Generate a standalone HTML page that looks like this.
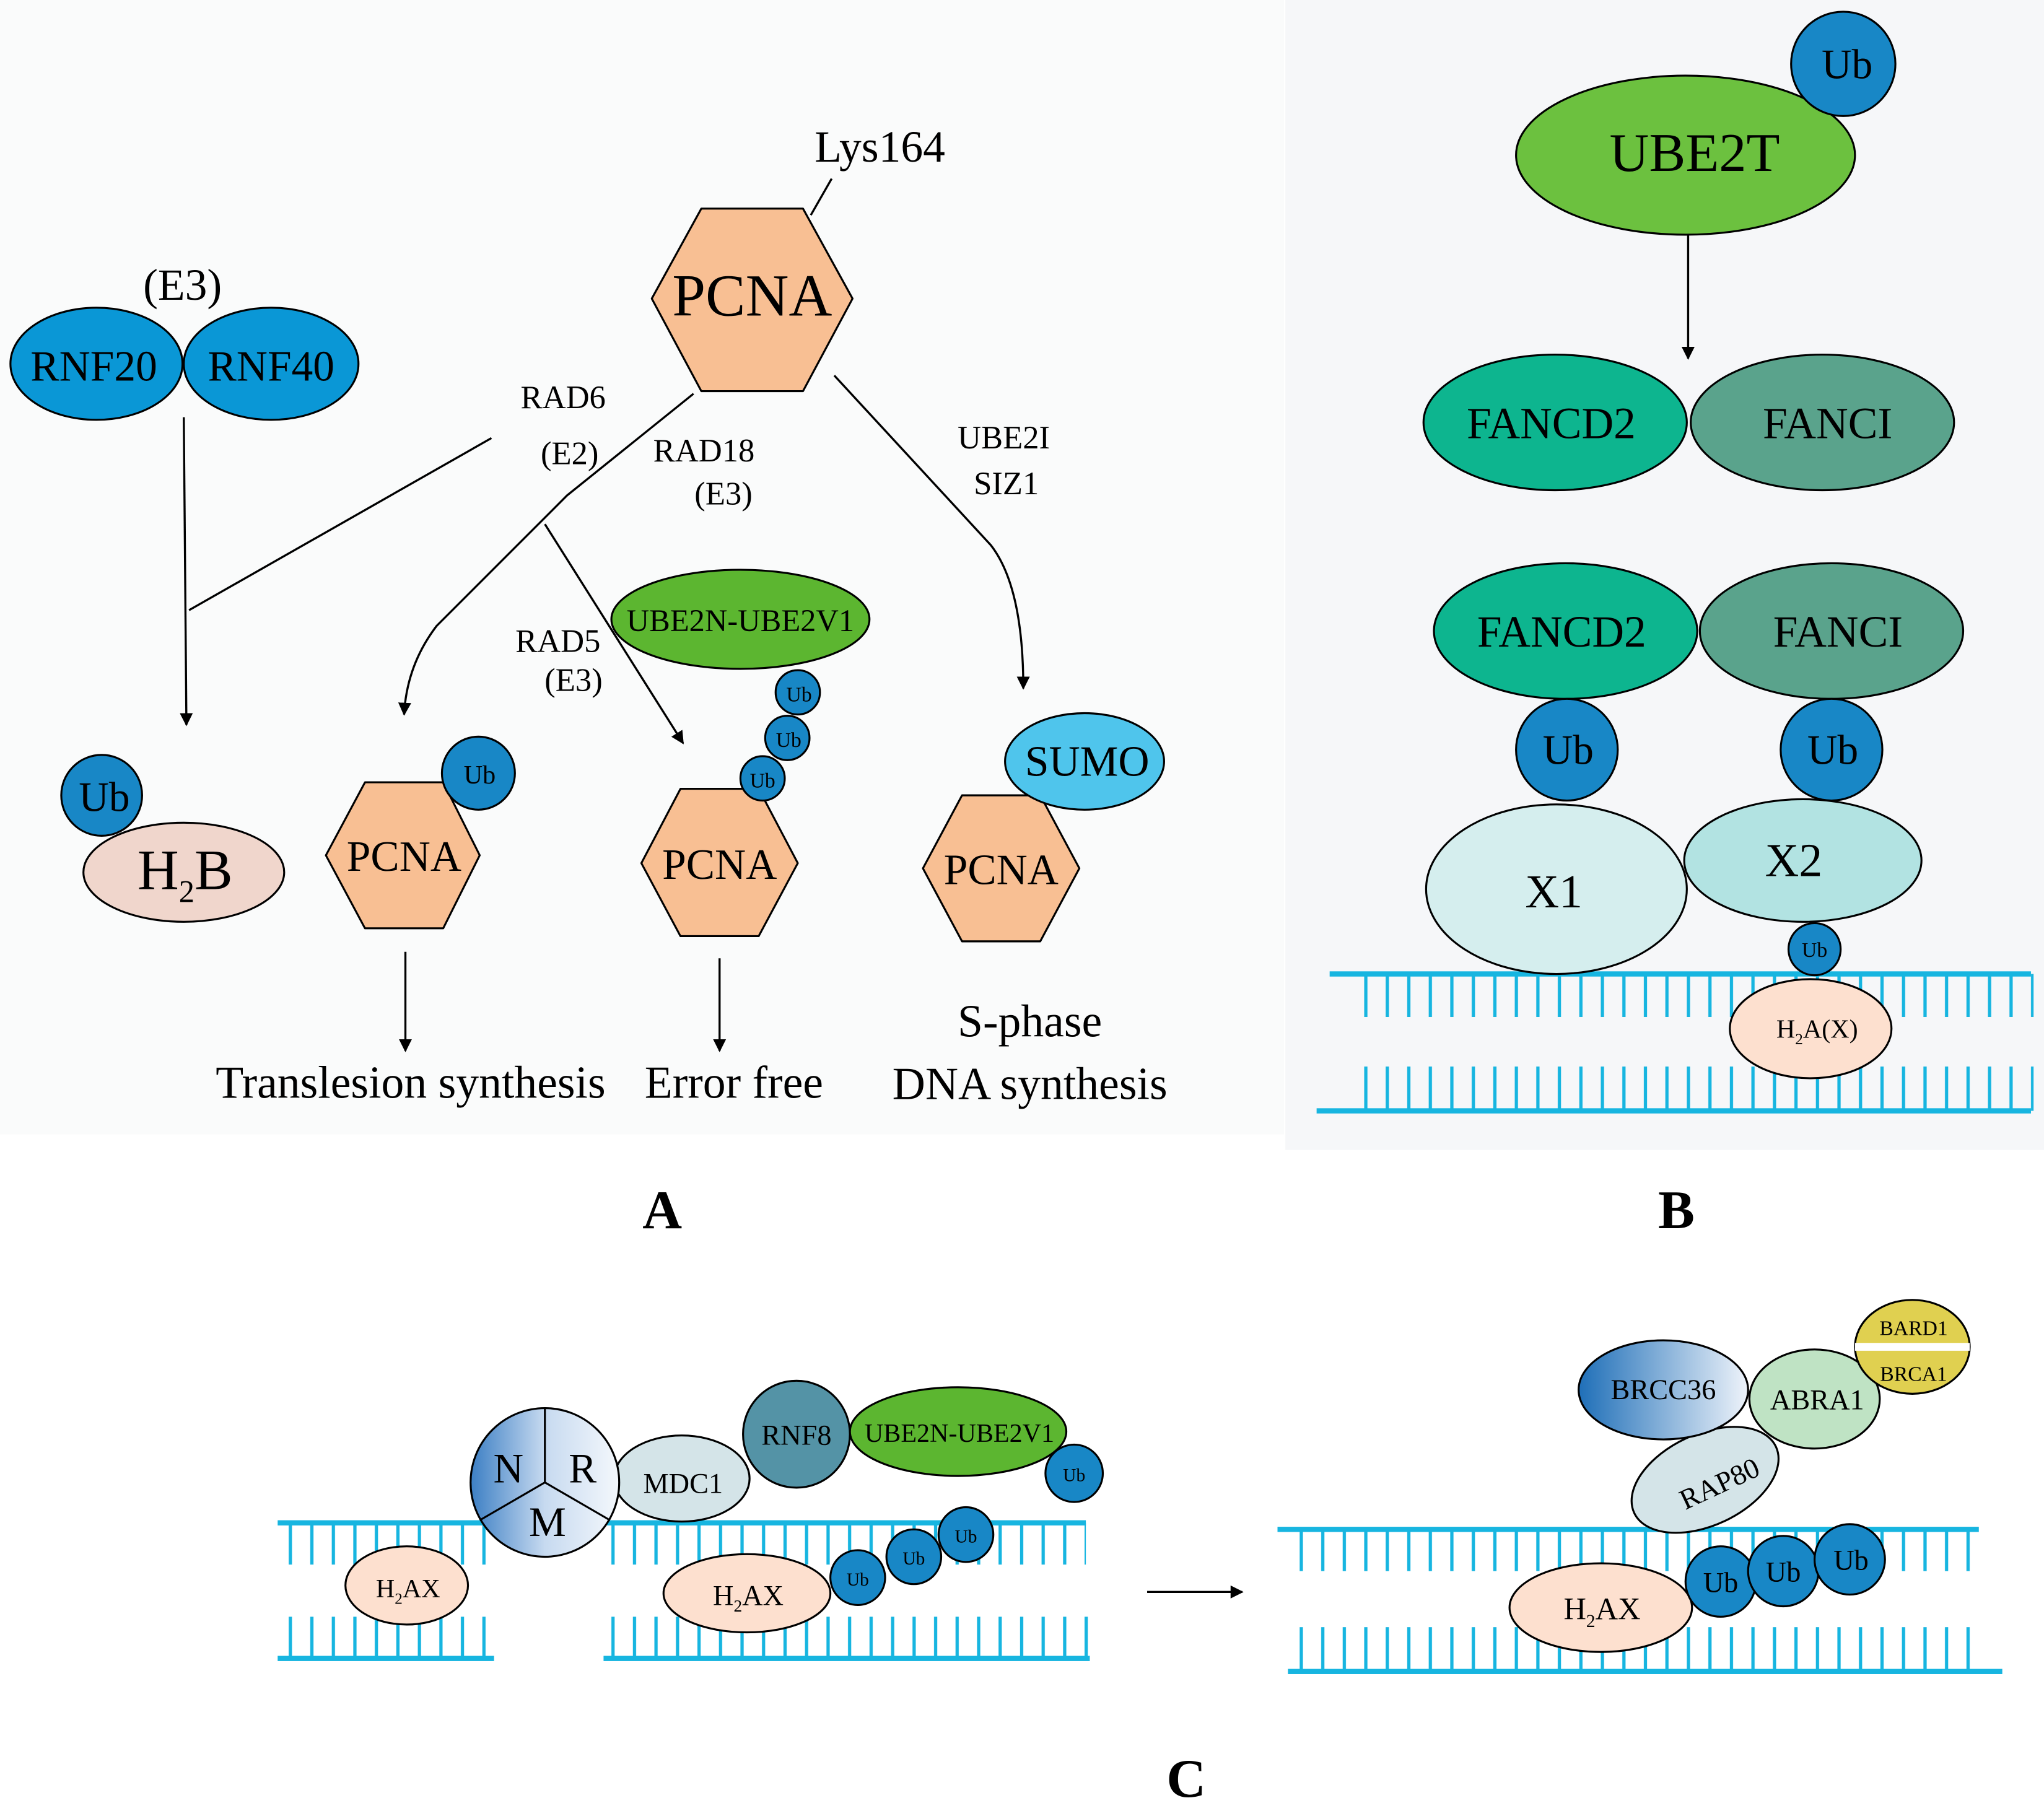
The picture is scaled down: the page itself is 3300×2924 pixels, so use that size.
<!DOCTYPE html>
<html><head><meta charset="utf-8"><style>html,body{margin:0;padding:0;background:#fff}svg{display:block}text{font-family:"Liberation Serif",serif}</style></head><body>
<svg width="3300" height="2924" viewBox="0 0 1568 1389" preserveAspectRatio="none" xmlns="http://www.w3.org/2000/svg">
<defs>
<marker id="ar" markerWidth="10" markerHeight="10" refX="9" refY="5" orient="auto" markerUnits="userSpaceOnUse"><path d="M0,0 L10,5 L0,10 z" fill="#000"/></marker>
<pattern id="tk" width="16.5" height="40" patternUnits="userSpaceOnUse"><rect x="7" y="0" width="2.5" height="40" fill="#17b5e0"/></pattern>
<linearGradient id="brc" x1="0" x2="1"><stop offset="0" stop-color="#1f6fb8"/><stop offset="1" stop-color="#eef3fa"/></linearGradient>
<linearGradient id="nrm" x1="0" x2="1"><stop offset="0" stop-color="#3c7fc4"/><stop offset="0.5" stop-color="#c7daf0"/><stop offset="1" stop-color="#f4f8fc"/></linearGradient>
</defs>
<rect width="1568" height="1389" fill="#fff"/>
<rect x="0" y="0" width="985" height="870" fill="#fafbfb"/>
<rect x="986" y="0" width="582" height="882" fill="#f6f7f9"/>
<g stroke="#000" stroke-width="1.6" fill="none">
<line x1="622" y1="165" x2="638" y2="137"/>
<line x1="141" y1="320" x2="143" y2="556" marker-end="url(#ar)"/>
<line x1="145" y1="468" x2="377" y2="336"/>
<path d="M532,302 L435,380 L335,480 Q312,510 310,548" marker-end="url(#ar)"/>
<line x1="418" y1="402" x2="524" y2="570" marker-end="url(#ar)"/>
<path d="M640,288 L760,418 Q785,450 785,528" marker-end="url(#ar)"/>
<line x1="311" y1="730" x2="311" y2="806" marker-end="url(#ar)"/>
<line x1="552" y1="735" x2="552" y2="806" marker-end="url(#ar)"/>
<line x1="1295" y1="180" x2="1295" y2="275" marker-end="url(#ar)"/>
<line x1="880" y1="1221" x2="953" y2="1221" marker-end="url(#ar)"/>
</g>
<g stroke="#000" stroke-width="1.5">
<polygon points="500,229 538,160 616,160 654,229 616,300 538,300" fill="#f8bf93" stroke-linejoin="round"/>
<ellipse cx="74" cy="279" rx="66" ry="43" fill="#0a97d6"/>
<ellipse cx="208" cy="279" rx="67" ry="43" fill="#0a97d6"/>
<ellipse cx="141" cy="669" rx="77" ry="38" fill="#f0d6cc"/>
<circle cx="78" cy="610" r="31" fill="#1887c6"/>
<polygon points="250,656 280,600 340,600 368,656 340,712 280,712" fill="#f8bf93" stroke-linejoin="round"/>
<circle cx="367" cy="593" r="28" fill="#1887c6"/>
<ellipse cx="568" cy="475" rx="99" ry="38" fill="#5cb630"/>
<polygon points="492,662 522,605 582,605 612,662 582,718 522,718" fill="#f8bf93" stroke-linejoin="round"/>
<circle cx="612" cy="531" r="17" fill="#1887c6"/>
<circle cx="604" cy="566" r="17" fill="#1887c6"/>
<circle cx="585" cy="597" r="17" fill="#1887c6"/>
<polygon points="708,666 738,610 798,610 828,666 798,722 738,722" fill="#f8bf93" stroke-linejoin="round"/>
<ellipse cx="832" cy="584" rx="61" ry="37" fill="#4fc5ec"/>
</g>
<g font-size="34" text-anchor="middle">
<text x="675" y="124" font-size="34">Lys164</text>
<text x="577" y="242" font-size="46">PCNA</text>
<text x="140" y="230" font-size="34">(E3)</text>
<text x="72" y="292" font-size="33">RNF20</text>
<text x="208" y="292" font-size="33">RNF40</text>
<text x="432" y="313" font-size="25">RAD6</text>
<text x="437" y="356" font-size="25">(E2)</text>
<text x="540" y="354" font-size="25">RAD18</text>
<text x="555" y="387" font-size="25">(E3)</text>
<text x="770" y="344" font-size="25">UBE2I</text>
<text x="772" y="379" font-size="25">SIZ1</text>
<text x="428" y="500" font-size="25">RAD5</text>
<text x="440" y="530" font-size="25">(E3)</text>
<text x="568" y="484" font-size="24">UBE2N-UBE2V1</text>
<text x="80" y="622" font-size="32">Ub</text>
<text x="142" y="682" font-size="44">H<tspan font-size="24" dy="10">2</tspan><tspan dy="-10">B</tspan></text>
<text x="310" y="668" font-size="33">PCNA</text>
<text x="368" y="601" font-size="20">Ub</text>
<text x="552" y="674" font-size="33">PCNA</text>
<text x="613" y="538" font-size="16">Ub</text>
<text x="605" y="573" font-size="16">Ub</text>
<text x="585" y="604" font-size="16">Ub</text>
<text x="768" y="678" font-size="33">PCNA</text>
<text x="834" y="595" font-size="33">SUMO</text>
<text x="315" y="842" font-size="35">Translesion synthesis</text>
<text x="563" y="842" font-size="35">Error free</text>
<text x="790" y="795" font-size="35">S-phase</text>
<text x="790" y="843" font-size="35">DNA synthesis</text>
<text x="508" y="942" font-size="42" font-weight="bold">A</text>
<text x="1286" y="942" font-size="42" font-weight="bold">B</text>
<text x="910" y="1378" font-size="42" font-weight="bold">C</text>
</g>
<rect x="1035" y="747" width="525" height="33" fill="url(#tk)"/>
<rect x="1020" y="745" width="538" height="4" fill="#17b5e0"/>
<rect x="1035" y="818" width="525" height="34" fill="url(#tk)"/>
<rect x="1010" y="850" width="548" height="4" fill="#17b5e0"/>
<g stroke="#000" stroke-width="1.5">
<ellipse cx="1293" cy="119" rx="130" ry="61" fill="#6cc13f"/>
<circle cx="1414" cy="49" r="40" fill="#1887c6"/>
<ellipse cx="1193" cy="324" rx="101" ry="52" fill="#0db58f"/>
<ellipse cx="1398" cy="324" rx="101" ry="52" fill="#5aa38c"/>
<ellipse cx="1194" cy="682" rx="100" ry="65" fill="#d5eeee"/>
<ellipse cx="1383" cy="660" rx="91" ry="47" fill="#b2e3e2"/>
<ellipse cx="1201" cy="484" rx="101" ry="52" fill="#0db58f"/>
<ellipse cx="1405" cy="484" rx="101" ry="52" fill="#5aa38c"/>
<circle cx="1202" cy="575" r="39" fill="#1887c6"/>
<circle cx="1405" cy="575" r="39" fill="#1887c6"/>
<ellipse cx="1392" cy="728" rx="20" ry="20" fill="#1887c6"/>
<ellipse cx="1389" cy="789" rx="62" ry="38" fill="#fde0cf"/>
</g>
<g text-anchor="middle">
<text x="1300" y="131" font-size="42">UBE2T</text>
<text x="1417" y="60" font-size="32">Ub</text>
<text x="1190" y="336" font-size="34">FANCD2</text>
<text x="1402" y="336" font-size="34">FANCI</text>
<text x="1198" y="496" font-size="34">FANCD2</text>
<text x="1410" y="496" font-size="34">FANCI</text>
<text x="1203" y="586" font-size="32">Ub</text>
<text x="1406" y="586" font-size="32">Ub</text>
<text x="1192" y="696" font-size="36">X1</text>
<text x="1376" y="672" font-size="36">X2</text>
<text x="1392" y="734" font-size="16">Ub</text>
<text x="1394" y="796" font-size="20">H<tspan font-size="12" dy="5">2</tspan><tspan dy="-5">A(X)</tspan></text>
</g>
<g>
<rect x="218" y="1168" width="160" height="32" fill="url(#tk)"/>
<rect x="213" y="1166" width="165" height="4" fill="#17b5e0"/>
<rect x="218" y="1240" width="160" height="32" fill="url(#tk)"/>
<rect x="213" y="1270" width="166" height="4" fill="#17b5e0"/>
<rect x="465" y="1168" width="368" height="32" fill="url(#tk)"/>
<rect x="463" y="1166" width="370" height="4" fill="#17b5e0"/>
<rect x="465" y="1240" width="370" height="32" fill="url(#tk)"/>
<rect x="463" y="1270" width="373" height="4" fill="#17b5e0"/>
<rect x="985" y="1173" width="533" height="32" fill="url(#tk)"/>
<rect x="980" y="1171" width="538" height="4" fill="#17b5e0"/>
<rect x="990" y="1248" width="530" height="34" fill="url(#tk)"/>
<rect x="988" y="1280" width="548" height="4" fill="#17b5e0"/>
</g>
<g stroke="#000" stroke-width="1.5">
<ellipse cx="312" cy="1216" rx="47" ry="30" fill="#fde0cf"/>
<ellipse cx="523" cy="1134" rx="52" ry="33" fill="#d4e4e8"/>
<circle cx="611" cy="1100" r="41" fill="#5493a6"/>
<ellipse cx="735" cy="1098" rx="83" ry="34" fill="#5cb630"/>
<circle cx="824" cy="1130" r="22" fill="#1887c6"/>
<ellipse cx="573" cy="1222" rx="64" ry="30" fill="#fde0cf"/>
<circle cx="741" cy="1177" r="21" fill="#1887c6"/>
<circle cx="701" cy="1194" r="21" fill="#1887c6"/>
<circle cx="658" cy="1210" r="21" fill="#1887c6"/>
<circle cx="418" cy="1137" r="57" fill="url(#nrm)"/>
<path d="M418,1080 L418,1137 L368,1166 M418,1137 L468,1166" fill="none"/>
<ellipse cx="1228" cy="1233" rx="70" ry="34" fill="#fde0cf"/>
<circle cx="1320" cy="1213" r="27" fill="#1887c6"/>
<circle cx="1368" cy="1205" r="27" fill="#1887c6"/>
<circle cx="1419" cy="1196" r="27" fill="#1887c6"/>
<ellipse cx="1308" cy="1135" rx="60" ry="35" fill="#d4e4e8" transform="rotate(-25 1308 1135)"/>
<ellipse cx="1392" cy="1073" rx="50" ry="38" fill="#bfe3c4"/>
<ellipse cx="1276" cy="1066" rx="65" ry="38" fill="url(#brc)"/>
<ellipse cx="1467" cy="1033" rx="44" ry="36" fill="#e0d050"/>
<line x1="1423" y1="1033" x2="1511" y2="1033" stroke="#fff" stroke-width="6"/>
</g>
<g text-anchor="middle">
<text x="313" y="1225" font-size="20">H<tspan font-size="12" dy="5">2</tspan><tspan dy="-5">AX</tspan></text>
<text x="574" y="1231" font-size="22">H<tspan font-size="13" dy="5">2</tspan><tspan dy="-5">AX</tspan></text>
<text x="524" y="1145" font-size="22">MDC1</text>
<text x="611" y="1108" font-size="22">RNF8</text>
<text x="736" y="1106" font-size="20">UBE2N-UBE2V1</text>
<text x="824" y="1136" font-size="14">Ub</text>
<text x="741" y="1183" font-size="14">Ub</text>
<text x="701" y="1200" font-size="14">Ub</text>
<text x="658" y="1216" font-size="14">Ub</text>
<text x="390" y="1137" font-size="32">N</text>
<text x="447" y="1137" font-size="32">R</text>
<text x="420" y="1178" font-size="32">M</text>
<text x="1229" y="1242" font-size="24">H<tspan font-size="14" dy="6">2</tspan><tspan dy="-6">AX</tspan></text>
<text x="1320" y="1221" font-size="22">Ub</text>
<text x="1368" y="1213" font-size="22">Ub</text>
<text x="1420" y="1204" font-size="22">Ub</text>
<text x="1276" y="1073" font-size="22">BRCC36</text>
<text x="1394" y="1081" font-size="22">ABRA1</text>
<text x="1320" y="1145" font-size="22" transform="rotate(-25 1320 1140)">RAP80</text>
<text x="1468" y="1024" font-size="16">BARD1</text>
<text x="1468" y="1059" font-size="16">BRCA1</text>
</g>
</svg>
</body></html>
